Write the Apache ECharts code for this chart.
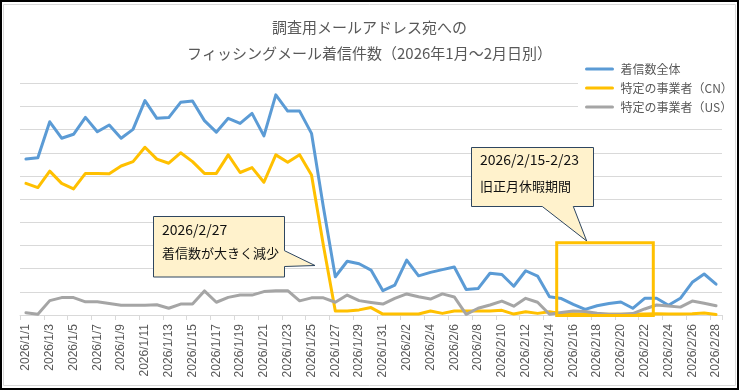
<!DOCTYPE html>
<html><head><meta charset="utf-8">
<script src="https://cdn.jsdelivr.net/npm/echarts@6/dist/echarts.min.js"></script>
<style>html,body{margin:0;padding:0;background:#fff}#c{width:739px;height:390px}</style>
</head><body><div id="c"></div>
<script>
const dates = ["2026/1/1","2026/1/2","2026/1/3","2026/1/4","2026/1/5","2026/1/6","2026/1/7","2026/1/8","2026/1/9","2026/1/10",
"2026/1/11","2026/1/12","2026/1/13","2026/1/14","2026/1/15","2026/1/16","2026/1/17","2026/1/18","2026/1/19","2026/1/20",
"2026/1/21","2026/1/22","2026/1/23","2026/1/24","2026/1/25","2026/1/26","2026/1/27","2026/1/28","2026/1/29","2026/1/30",
"2026/1/31","2026/2/1","2026/2/2","2026/2/3","2026/2/4","2026/2/5","2026/2/6","2026/2/7","2026/2/8","2026/2/9",
"2026/2/10","2026/2/11","2026/2/12","2026/2/13","2026/2/14","2026/2/15","2026/2/16","2026/2/17","2026/2/18","2026/2/19",
"2026/2/20","2026/2/21","2026/2/22","2026/2/23","2026/2/24","2026/2/25","2026/2/26","2026/2/27","2026/2/28"];

const seriesNames = ["着信数全体","特定の事業者（CN）","特定の事業者（US）"];

const totalAll = [6.73,6.79,8.34,7.63,7.80,8.53,7.91,8.20,7.63,8.01,
9.25,8.49,8.52,9.18,9.24,8.39,7.89,8.49,8.27,8.70,
7.73,9.50,8.80,8.80,7.84,4.65,1.65,2.32,2.21,1.94,
1.05,1.29,2.37,1.69,1.84,1.96,2.07,1.10,1.14,1.80,
1.75,1.24,1.91,1.68,0.79,0.71,0.46,0.24,0.40,0.50,
0.56,0.29,0.72,0.72,0.42,0.72,1.41,1.77,1.33];

const cnProvider = [5.68,5.50,6.21,5.68,5.44,6.11,6.11,6.10,6.43,6.62,
7.24,6.73,6.55,7.00,6.62,6.11,6.11,6.91,6.15,6.36,
5.73,6.91,6.59,6.92,6.04,3.00,0.17,0.17,0.22,0.32,
0.04,0.04,0.04,0.04,0.17,0.07,0.17,0.17,0.17,0.17,
0.20,0.04,0.14,0.07,0.14,0.05,0.05,0.04,0.03,0.03,
0.03,0.03,0.04,0.05,0.04,0.04,0.05,0.09,0.02];

const usProvider = [0.10,0.03,0.62,0.75,0.75,0.57,0.57,0.50,0.42,0.42,
0.42,0.44,0.29,0.47,0.47,1.04,0.55,0.76,0.86,0.86,
1.01,1.05,1.05,0.61,0.74,0.74,0.55,0.86,0.62,0.54,
0.47,0.72,0.91,0.79,0.69,0.91,0.78,0.03,0.29,0.43,
0.60,0.38,0.72,0.55,0.03,0.11,0.17,0.15,0.08,0.03,
0.03,0.06,0.26,0.43,0.39,0.34,0.60,0.51,0.40];

const titleText = "調査用メールアドレス宛への\nフィッシングメール着信件数（2026年1月～2月日別）";
const note1 = ["2026/2/27","着信数が大きく減少"];
const note2 = ["2026/2/15-2/23","旧正月休暇期間"];

const colors = ["#5B9BD5","#FFC000","#A5A5A5"];
const jp = "'Noto Sans CJK JP', 'Noto Sans', sans-serif";

const chart = echarts.init(document.getElementById('c'), null, {renderer:'canvas'});
function mkSeries(name, data, color){
  return {name, type:'line', data, symbol:'none', smooth:false,
    lineStyle:{width:3, color, join:'round', cap:'round'}, itemStyle:{color}, animation:false};
}
const calloutStroke = '#2E4660';
const calloutFill = '#FFF2CC';
chart.setOption({
  backgroundColor:'#fff',
  animation:false,
  title:{text:titleText, left:'center', top:14, padding:0,
    textStyle:{fontFamily:jp, fontSize:15, fontWeight:'normal', color:'#595959', lineHeight:26}},
  legend:{data:seriesNames, orient:'vertical', left:578, top:61, padding:[2,14,4,7],
    itemWidth:26, itemHeight:14, itemGap:7, backgroundColor:'#fff',
    itemStyle:{opacity:0}, lineStyle:{width:3},
    textStyle:{fontFamily:jp, fontSize:12, color:'#595959', padding:[0,0,0,3]}},
  grid:{left:20, right:17, top:83.3, bottom:75},
  xAxis:{type:'category', data:dates, boundaryGap:true,
    axisLine:{lineStyle:{color:'#D9D9D9', width:1}},
    axisTick:{show:true, interval:1, length:5, lineStyle:{color:'#D9D9D9'}},
    axisLabel:{interval:1, rotate:90, fontSize:12, color:'#595959', margin:9, fontFamily:"'Liberation Sans', Arial, sans-serif"}},
  yAxis:{type:'value', min:0, max:10, interval:1,
    axisLabel:{show:false}, axisLine:{show:false}, axisTick:{show:false},
    splitLine:{lineStyle:{color:'#D9D9D9', width:1}}},
  series:[mkSeries(seriesNames[0], totalAll, colors[0]),
          mkSeries(seriesNames[1], cnProvider, colors[1]),
          mkSeries(seriesNames[2], usProvider, colors[2])],
  graphic:[
    {type:'rect', z:200, silent:true, shape:{x:1,y:1,width:737,height:388}, style:{fill:'none', stroke:'#000', lineWidth:2}},
    {type:'rect', z:200, silent:true, shape:{x:3.5,y:4.5,width:732,height:381}, style:{fill:'none', stroke:'#D9D9D9', lineWidth:1}},
    {type:'polygon', z:150, silent:true, shape:{points:[[153.5,216.5],[284.5,216.5],[284.5,250.7],[315,265.5],[284.5,266.5],[284.5,277],[153.5,277]]},
      style:{fill:calloutFill, stroke:calloutStroke, lineWidth:1}},
    {type:'text', z:151, silent:true, x:162, y:230, style:{text:note1[0], fontFamily:jp, fontSize:14, fill:'#111', verticalAlign:'middle'}},
    {type:'text', z:151, silent:true, x:162, y:253, style:{text:note1[1], fontFamily:jp, fontSize:13, fill:'#111', verticalAlign:'middle'}},
    {type:'polygon', z:150, silent:true, shape:{points:[[471.5,147.5],[593.5,147.5],[593.5,206.5],[573.3,206.5],[586.7,241],[542.3,206.5],[471.5,206.5]]},
      style:{fill:calloutFill, stroke:calloutStroke, lineWidth:1}},
    {type:'text', z:151, silent:true, x:480, y:160, style:{text:note2[0], fontFamily:jp, fontSize:14, fill:'#111', verticalAlign:'middle'}},
    {type:'text', z:151, silent:true, x:480, y:185.7, style:{text:note2[1], fontFamily:jp, fontSize:13, fill:'#111', verticalAlign:'middle'}},
    {type:'rect', z:150, silent:true, shape:{x:556.7,y:242.7,width:96.6,height:72.8}, style:{fill:'none', stroke:'#FFC000', lineWidth:3}}
  ]
});
</script></body></html>
